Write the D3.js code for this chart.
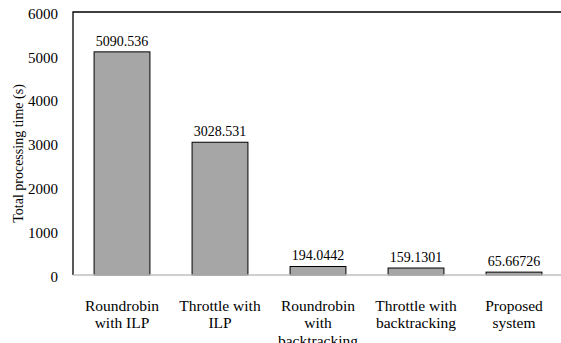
<!DOCTYPE html>
<html>
<head>
<meta charset="utf-8">
<script src="https://cdn.jsdelivr.net/npm/d3@7"></script>
<style>
  html, body { margin: 0; padding: 0; background: #fff; }
  svg { display: block; }
</style>
</head>
<body>
<svg id="chart" width="561" height="343"></svg>
<script>
const categories = [
  ["Roundrobin", "with ILP"],
  ["Throttle with", "ILP"],
  ["Roundrobin", "with", "backtracking"],
  ["Throttle with", "backtracking"],
  ["Proposed", "system"]
];
const values = [5090.536, 3028.531, 194.0442, 159.1301, 65.66726];
const valueLabels = ["5090.536", "3028.531", "194.0442", "159.1301", "65.66726"];
const yTicks = [0, 1000, 2000, 3000, 4000, 5000, 6000];
const yTitle = "Total processing time (s)";

const FONT = '"Liberation Serif"';
const svg = d3.select("#chart");
const pLeft = 73, pTop = 12, pRight = 563, pBottom = 275;

const x = d3.scaleBand().domain(d3.range(categories.length)).range([pLeft, pRight]).paddingInner(0.43).paddingOuter(0.215);
const y = d3.scaleLinear().domain([0, 6000]).range([pBottom, pTop]);

// plot frame (top + left black)
svg.append("path")
  .attr("d", `M${pLeft},${pBottom} L${pLeft},${pTop} L${pRight + 2},${pTop}`)
  .attr("fill", "none").attr("stroke", "#000").attr("stroke-width", 1.3);

// y axis labels
const yAxis = d3.axisLeft(y).tickValues(yTicks).tickSize(0).tickPadding(15).tickFormat(d3.format("d"));
const ya = svg.append("g").attr("transform", `translate(${pLeft},0)`).call(yAxis);
ya.attr("font-family", null).attr("font-size", null);
ya.select(".domain").remove();
ya.selectAll("text").style("font-family", FONT).style("font-size", "15px").attr("fill", "#000").attr("dy", "0.42em");

// bars
svg.selectAll("rect.bar").data(values).join("rect")
  .attr("class", "bar")
  .attr("x", (d, i) => x(i))
  .attr("width", x.bandwidth())
  .attr("y", d => y(d))
  .attr("height", d => y(0) - y(d))
  .attr("fill", "#a6a6a6")
  .attr("stroke", "#000")
  .attr("stroke-width", 1);

// value labels
svg.selectAll("text.val").data(values).join("text")
  .attr("class", "val")
  .attr("x", (d, i) => x(i) + x.bandwidth() / 2)
  .attr("y", d => y(d) - 6)
  .attr("text-anchor", "middle")
  .style("font-family", FONT)
  .style("font-size", "14px")
  .text((d, i) => valueLabels[i]);

// x axis line
const xAxis = d3.axisBottom(x).tickSize(0).tickFormat("");
const xa = svg.append("g").attr("transform", `translate(0,${pBottom})`).call(xAxis);
xa.select(".domain").attr("stroke", "#bfbfbf").attr("stroke-width", 1.5)
  .attr("d", `M${pLeft},0H${pRight + 2}`);

// category labels
categories.forEach((lines, i) => {
  const t = svg.append("text")
    .attr("x", x(i) + x.bandwidth() / 2)
    .attr("y", 310.5)
    .attr("text-anchor", "middle")
    .style("font-family", FONT)
    .style("font-size", "15.5px");
  lines.forEach((ln, j) => {
    t.append("tspan").attr("x", x(i) + x.bandwidth() / 2).attr("dy", j === 0 ? 0 : 17.5).text(ln);
  });
});

// y title
svg.append("text")
  .attr("transform", `translate(23,${(pTop + pBottom) / 2 + 10}) rotate(-90)`)
  .attr("text-anchor", "middle")
  .style("font-family", FONT)
  .style("font-size", "14px")
  .text(yTitle);
</script>
</body>
</html>
